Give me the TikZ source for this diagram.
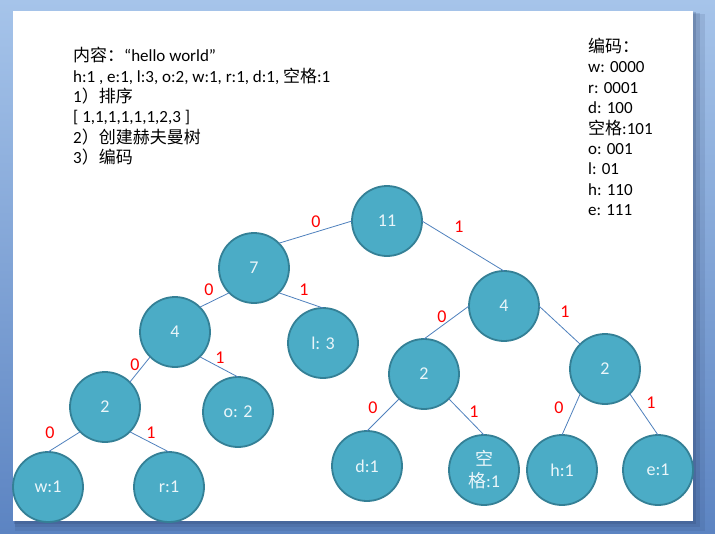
\documentclass[tikz,border=0pt]{standalone}
\usepackage{fontspec}
\setmainfont{Carlito}
\newfontfamily\cjk{Noto Sans CJK SC}
\newcommand{\zh}[1]{{\cjk #1}}
\definecolor{nodeblue}{RGB}{75,172,198}
\definecolor{nodeedge}{RGB}{52,128,150}
\definecolor{nodetext}{RGB}{235,246,250}
\definecolor{lineblue}{RGB}{79,129,189}
\definecolor{bgtop}{RGB}{166,196,234}
\definecolor{bgbottom}{RGB}{92,132,194}
\definecolor{shadowblue}{RGB}{40,60,100}

\begin{document}
\begin{tikzpicture}[x=1pt, y=-1pt,
    treenode/.style={circle, draw=nodeedge, line width=1.8pt, fill=nodeblue, minimum size=70pt, inner sep=0pt, outer sep=0pt, text=nodetext, align=center, font=\fontsize{18}{22}\selectfont},
    bit/.style={text=red, inner sep=0pt, font=\fontsize{18}{20}\selectfont},
    edge/.style={draw=lineblue, line width=0.8pt},
    notes/.style={anchor=north west, inner sep=0pt, align=left, font=\fontsize{17}{20.4}\selectfont}
]
% slide and window background
\shade[top color=bgtop, bottom color=bgbottom] (0,0) rectangle (715,533);
\fill[shadowblue, opacity=.12] (15,14) rectangle (705,531);
\fill[shadowblue, opacity=.15] (15,13) rectangle (700,527);
\fill[shadowblue, opacity=.2] (14,12) rectangle (696,524);
\fill[white] (13,11) rectangle (693,521);

% text
\node[notes] (info) at (73,47) {\zh{内容：}“hello world”\\
h:1 , e:1, l:3, o:2, w:1, r:1, d:1, \zh{空格}:1\\
1\zh{）排序}\\
{[} 1,1,1,1,1,1,2,3 ]\\
2\zh{）创建赫夫曼树}\\
3\zh{）编码}};
\node[notes] (codes) at (588,38) {\zh{编码：}\\
w: 0000\\
r: 0001\\
d: 100\\
\zh{空格}:101\\
o: 001\\
l: 01\\
h: 110\\
e: 111};

% tree
\node[treenode] (n11) at (387,221) {11};
\node[treenode] (n7) at (254,268) {7};
\node[treenode] (n4r) at (504,306) {4};
\node[treenode] (nl) at (323,343) {l: 3};
\node[treenode] (n4l) at (175,332) {4};
\node[treenode] (n2l) at (105,407) {2};
\node[treenode] (no) at (238,412) {o: 2};
\node[treenode] (nw) at (48,487) {w:1};
\node[treenode] (nr) at (169,487) {r:1};
\node[treenode] (n2m) at (424,374) {2};
\node[treenode] (n2r) at (605,369) {2};
\node[treenode] (nd) at (367,466) {d:1};
\node[treenode] (nsp) at (484,470) {\zh{空}\\\zh{格}:1};
\node[treenode] (nh) at (562,470) {h:1};
\node[treenode] (ne) at (658,470) {e:1};

\draw[edge] (n11.west) -- (n7.north east);
\draw[edge] (n11.east) -- (n4r.north);
\draw[edge] (n7.south west) -- (n4l.north east);
\draw[edge] (n7.south east) -- (nl.north);
\draw[edge] (n4l.south west) -- (n2l.north east);
\draw[edge] (n4l.south east) -- (no.north);
\draw[edge] (n2l.south west) -- (nw.north);
\draw[edge] (n2l.south east) -- (nr.north);
\draw[edge] (n4r.west) -- (n2m.north);
\draw[edge] (n4r.east) -- (n2r.north west);
\draw[edge] (n2m.south west) -- (nd.north);
\draw[edge] (n2m.south east) -- (nsp.north);
\draw[edge] (n2r.south west) -- (nh.north);
\draw[edge] (n2r.south east) -- (ne.north);

% 0/1 labels
\node[bit] (b1) at (316,222) {0};
\node[bit] (b2) at (459,227) {1};
\node[bit] (b3) at (209,290) {0};
\node[bit] (b4) at (304,290) {1};
\node[bit] (b5) at (135,365) {0};
\node[bit] (b6) at (220,358) {1};
\node[bit] (b7) at (50,433) {0};
\node[bit] (b8) at (151,433) {1};
\node[bit] (b9) at (442,317) {0};
\node[bit] (b10) at (565,312) {1};
\node[bit] (b11) at (373,408) {0};
\node[bit] (b12) at (474,412) {1};
\node[bit] (b13) at (559,408) {0};
\node[bit] (b14) at (651,403) {1};
\end{tikzpicture}
\end{document}
